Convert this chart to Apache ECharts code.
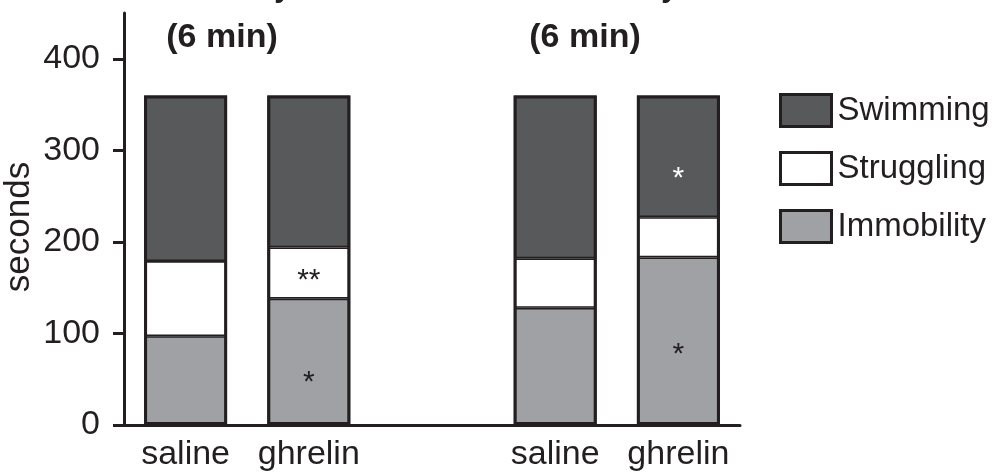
<!DOCTYPE html>
<html>
<head>
<meta charset="utf-8">
<script src="https://cdn.jsdelivr.net/npm/echarts@6/dist/echarts.min.js"></script>
<style>
  html, body { margin: 0; padding: 0; background: #fff; }
  #chart { width: 995px; height: 472px; }
</style>
</head>
<body>
<div id="chart"></div>
<script>
// ---- data ----
const categories = ['saline', 'ghrelin', '', 'saline', 'ghrelin'];
const immobility = [97, 138, '-', 128, 183];
const struggling = [82, 56, '-', 54, 44];
const swimming   = [181, 166, '-', 178, 133];
const yTicks = [0, 100, 200, 300, 400];
const immobilityMarks = ['', '*', '', '', '*'];
const strugglingMarks = ['', '**', '', '', ''];
const swimmingMarks   = ['', '', '', '', '*'];
const panelNotes  = ['(6 min)', '(6 min)'];
const panelTitles = ['Acute study', 'Chronic study'];

// ---- styles ----
const INK = '#231f20';
const FONT = '"Liberation Sans", Arial, Helvetica, sans-serif';
const colors = { Immobility: '#a0a1a4', Struggling: '#ffffff', Swimming: '#58595b' };
const markColors = { Immobility: INK, Struggling: INK, Swimming: '#ffffff' };
const markOffsets = {
  Immobility: [0, 21, 0, 0, 14],
  Struggling: [0, 8, 0, 0, 0],
  Swimming:   [0, 0, 0, 0, 22]
};
const BAR_W = 83;

function buildSeries(name, values, marks) {
  return {
    name: name,
    type: 'bar',
    stack: 'total',
    barWidth: BAR_W,
    itemStyle: { color: colors[name], borderColor: INK, borderWidth: 1.6 },
    emphasis: { disabled: true },
    data: values.map(function (v, i) {
      const item = { value: v };
      if (marks[i]) {
        item.label = {
          show: true,
          position: 'inside',
          formatter: marks[i],
          color: markColors[name],
          fontSize: 30,
          fontFamily: FONT,
          offset: [0, markOffsets[name][i]]
        };
      }
      return item;
    })
  };
}

// outline of each full bar (total of the three segments)
const totals = categories.map(function (c, i) {
  if (immobility[i] === '-') return '-';
  return immobility[i] + struggling[i] + swimming[i];
});

const chart = echarts.init(document.getElementById('chart'), null, { renderer: 'canvas' });

const option = {
  animation: false,
  backgroundColor: '#ffffff',
  grid: { left: 124, right: 255, top: 13, bottom: 46, containLabel: false },
  legend: {
    data: ['Swimming', 'Struggling', 'Immobility'],
    orient: 'vertical',
    left: 779,
    top: 93,
    padding: 0,
    itemWidth: 51,
    itemHeight: 32,
    itemGap: 23,
    icon: 'rect',
    selectedMode: false,
    itemStyle: { borderColor: INK, borderWidth: 3 },
    textStyle: { fontSize: 33, color: INK, fontFamily: FONT, padding: [0, 0, 0, 1] }
  },
  xAxis: {
    type: 'category',
    data: categories,
    axisLine: { show: true, lineStyle: { color: INK, width: 3 } },
    axisTick: { show: false },
    axisLabel: { color: INK, fontSize: 34, fontFamily: FONT, margin: 13, interval: 0 },
    splitLine: { show: false }
  },
  yAxis: {
    type: 'value',
    min: 0,
    max: 450,
    interval: 50,
    axisLine: { show: true, lineStyle: { color: INK, width: 3 } },
    axisTick: { show: true, length: 11, lineStyle: { color: INK, width: 3 }, customValues: yTicks },
    axisLabel: { color: INK, fontSize: 34, fontFamily: FONT, margin: 24, customValues: yTicks },
    splitLine: { show: false }
  },
  graphic: [
    { type: 'text', x: 291, y: -11, style: { text: panelTitles[0], font: 'bold 30px ' + FONT, fill: INK, textAlign: 'right', textVerticalAlign: 'middle' } },
    { type: 'text', x: 678, y: -11, style: { text: panelTitles[1], font: 'bold 30px ' + FONT, fill: INK, textAlign: 'right', textVerticalAlign: 'middle' } },
    { type: 'text', x: 222, y: 38, style: { text: panelNotes[0], font: 'bold 34px ' + FONT, fill: INK, textAlign: 'center', textVerticalAlign: 'middle' } },
    { type: 'text', x: 585, y: 38, style: { text: panelNotes[1], font: 'bold 34px ' + FONT, fill: INK, textAlign: 'center', textVerticalAlign: 'middle' } },
    { type: 'text', x: 19, y: 227, rotation: Math.PI / 2, style: { text: 'seconds', font: '35px ' + FONT, fill: INK, textAlign: 'center', textVerticalAlign: 'middle' } }
  ],
  series: [
    buildSeries('Immobility', immobility, immobilityMarks),
    buildSeries('Struggling', struggling, strugglingMarks),
    buildSeries('Swimming', swimming, swimmingMarks),
    {
      name: 'outline',
      type: 'bar',
      stack: 'outline',
      barWidth: BAR_W,
      barGap: '-100%',
      silent: true,
      itemStyle: { color: 'rgba(0,0,0,0)', borderColor: INK, borderWidth: 3 },
      emphasis: { disabled: true },
      data: totals
    }
  ]
};

chart.setOption(option);
</script>
</body>
</html>
